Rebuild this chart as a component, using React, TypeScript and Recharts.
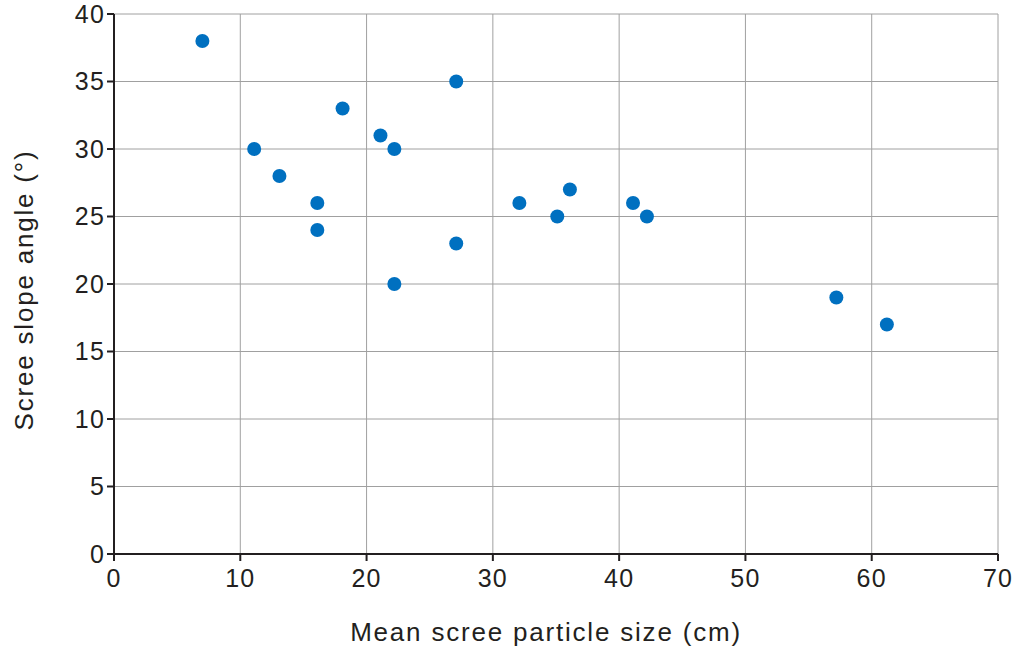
import { CartesianGrid, Label, Scatter, ScatterChart, XAxis, YAxis } from 'recharts'

type Pt = { size: number; angle: number }

const particleSize = [7, 11.1, 13.1, 16.1, 16.1, 18.1, 21.1, 22.2, 22.2, 27.1, 27.1, 32.1, 35.1, 36.1, 41.1, 42.2, 57.2, 61.2]
const slopeAngle = [38, 30, 28, 26, 24, 33, 31, 30, 20, 35, 23, 26, 25, 27, 26, 25, 19, 17]
const xTicks = [0, 10, 20, 30, 40, 50, 60, 70]
const yTicks = [0, 5, 10, 15, 20, 25, 30, 35, 40]

const data: Pt[] = particleSize.map((s, i) => ({ size: s, angle: slopeAngle[i] }))

const font = 'Liberation Sans, Arial, sans-serif'
const axisColor = '#231f20'
const tickStyle = { fontSize: 25, fill: '#231f20', fontFamily: font, letterSpacing: 1.2 }
const titleStyle = { fontSize: 26, fill: '#231f20', fontFamily: font, letterSpacing: 1.8 }

function Dot(props: { cx?: number; cy?: number }) {
  if (props.cx == null || props.cy == null) return null
  return <circle cx={props.cx} cy={props.cy} r={7} fill="#0070c0" />
}

export default function App() {
  return (
    <div style={{ position: 'absolute', left: 0, top: 0, background: '#fff' }}>
      <ScatterChart width={1016} height={655} margin={{ top: 14, right: 18, left: 0, bottom: 0 }}>
        <CartesianGrid stroke="#a0a0a0" strokeWidth={1} />
        <XAxis
          type="number"
          dataKey="size"
          domain={[0, 70]}
          ticks={xTicks}
          interval={0}
          height={101}
          tick={tickStyle}
          tickSize={7}
          tickMargin={8}
          stroke={axisColor}
          strokeWidth={2}
          tickLine={{ stroke: axisColor, strokeWidth: 2 }}
        >
          <Label
            value="Mean scree particle size (cm)"
            position="insideBottom"
            offset={14}
            dx={-10}
            style={titleStyle}
          />
        </XAxis>
        <YAxis
          type="number"
          dataKey="angle"
          domain={[0, 40]}
          ticks={yTicks}
          interval={0}
          width={114}
          tick={tickStyle}
          tickSize={7}
          tickMargin={2}
          stroke={axisColor}
          strokeWidth={2}
          tickLine={{ stroke: axisColor, strokeWidth: 2 }}
        >
          <Label
            value="Scree slope angle (°)"
            angle={-90}
            position="insideLeft"
            offset={24}
            dy={6}
            style={{ ...titleStyle, textAnchor: 'middle' }}
          />
        </YAxis>
        <Scatter data={data} shape={Dot} isAnimationActive={false} />
      </ScatterChart>
    </div>
  )
}
